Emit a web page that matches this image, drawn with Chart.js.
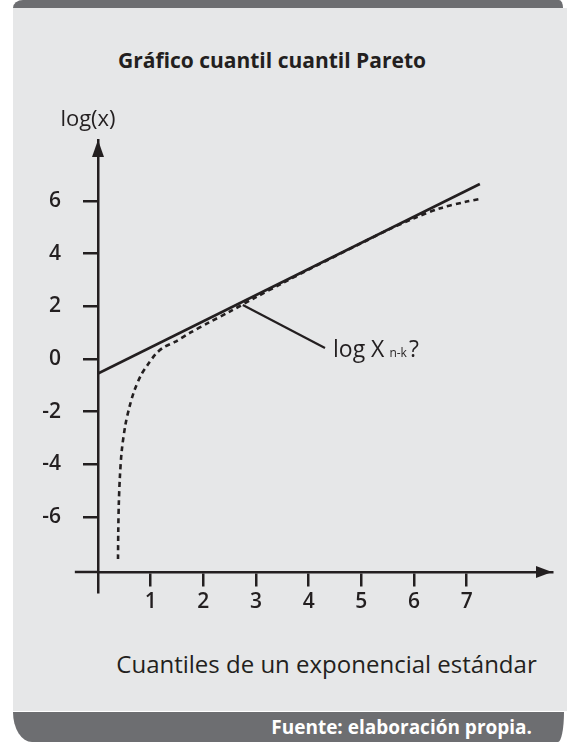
<!DOCTYPE html>
<html lang="es">
<head>
<meta charset="utf-8">
<title>Gráfico cuantil cuantil Pareto</title>
<script src="https://cdn.jsdelivr.net/npm/chart.js@4.4.1/dist/chart.umd.min.js"></script>
<style>
  html, body { margin: 0; padding: 0; background: #fff; }
  body { width: 567px; height: 742px; position: relative; overflow: hidden; font-family: "Open Sans", sans-serif; color: #231f20; }
  .band-top { position: absolute; left: 13px; top: 0; width: 550px; height: 8px; background: #6d6e71; border-top-left-radius: 10px 8px; border-top-right-radius: 4px 8px; }
  .panel { position: absolute; left: 13px; top: 8px; right: 0; height: 703px; background: #e6e7e8; }
  .band-bottom { position: absolute; left: 13px; top: 712px; width: 551px; height: 30px; background: #6d6e71; border-bottom-left-radius: 19px 30px; border-bottom-right-radius: 6px 30px; }
  .title { position: absolute; left: 0; width: 544px; top: 48px; line-height: 24px; text-align: center; font-weight: 700; font-size: 21px; }
  .caption { position: absolute; left: 0; width: 653px; top: 650px; line-height: 28px; text-align: center; font-size: 24px; }
  .source { position: absolute; right: 35px; top: 714px; line-height: 26px; font-weight: 700; font-size: 19px; color: #fff; }
  canvas { position: absolute; left: 0; top: 0; }
</style>
</head>
<body>
<div class="band-top"></div>
<div class="panel"></div>
<div class="band-bottom"></div>
<div class="title">Gráfico cuantil cuantil Pareto</div>
<div class="caption">Cuantiles de un exponencial estándar</div>
<div class="source">Fuente: elaboración propia.</div>
<canvas id="qqChart" width="567" height="742"></canvas>
<script>
// tick values
const xTicks = [1, 2, 3, 4, 5, 6, 7];
const yTicks = [-6, -4, -2, 0, 2, 4, 6];

// straight reference line
const refX = [0, 7.25];
const refY = [-0.55, 6.65];

// empirical quantiles (dashed curve)
const qqX = [0.38, 0.385, 0.395, 0.415, 0.45, 0.52, 0.60, 0.69, 0.82, 0.95, 1.1, 1.25, 1.46, 1.75, 2.1, 2.5, 3.0, 3.5, 4.0, 5.0, 5.5, 6.0, 6.5, 7.0, 7.25];
const qqY = [-7.6, -6.5, -5.5, -4.5, -3.5, -2.5, -1.8, -1.2, -0.6, -0.2, 0.2, 0.45, 0.65, 1.0, 1.38, 1.8, 2.35, 2.88, 3.4, 4.4, 4.9, 5.35, 5.73, 5.98, 6.08];

// axis extents and annotation anchor
const xRange = [-0.44, 8.62];
const yRange = [-8.85, 8.32];
const xAxisAt = -8.09;
const noteFrom = [2.75, 2.05];
const noteTo = [4.31, 0.42];

const ink = '#231f20';
const fontFamily = '"Open Sans", sans-serif';

function toPoints(xs, ys) {
    return xs.map((v, i) => ({ x: v, y: ys[i] }));
}

// arrows, axis label and the log X annotation
const decorations = {
    id: 'decorations',
    afterDraw(chart) {
        const { ctx, scales: { x, y } } = chart;
        const x0 = x.getPixelForValue(0);
        const top = y.getPixelForValue(y.max);
        const axisY = y.getPixelForValue(xAxisAt);
        const left = x.getPixelForValue(xRange[0]);
        const right = x.getPixelForValue(x.max);

        ctx.save();
        ctx.fillStyle = ink;
        ctx.strokeStyle = ink;

        // x axis continues a little to the left of the y axis
        ctx.lineWidth = 2.5;
        ctx.beginPath();
        ctx.moveTo(left, axisY);
        ctx.lineTo(x0, axisY);
        ctx.stroke();

        ctx.beginPath();
        ctx.moveTo(x0, top);
        ctx.lineTo(x0 - 6, top + 17);
        ctx.lineTo(x0 + 6, top + 17);
        ctx.closePath();
        ctx.fill();

        ctx.beginPath();
        ctx.moveTo(right, axisY);
        ctx.lineTo(right - 16, axisY - 6);
        ctx.lineTo(right - 16, axisY + 6);
        ctx.closePath();
        ctx.fill();

        ctx.font = '22px ' + fontFamily;
        ctx.textAlign = 'center';
        ctx.textBaseline = 'alphabetic';
        ctx.fillText('log(x)', x0 - 10, top - 14);

        // leader line
        const ax = x.getPixelForValue(noteFrom[0]);
        const ay = y.getPixelForValue(noteFrom[1]);
        const bx = x.getPixelForValue(noteTo[0]);
        const by = y.getPixelForValue(noteTo[1]);
        ctx.lineWidth = 2.2;
        ctx.beginPath();
        ctx.moveTo(ax, ay);
        ctx.lineTo(bx, by);
        ctx.stroke();

        ctx.textAlign = 'left';
        ctx.font = '23px ' + fontFamily;
        let tx = bx + 8;
        const ty = by + 9;
        ctx.fillText('log X', tx, ty);
        tx += ctx.measureText('log X').width + 5;
        ctx.font = '12px ' + fontFamily;
        ctx.fillText('n-k', tx, ty);
        tx += ctx.measureText('n-k').width + 2;
        ctx.font = '23px ' + fontFamily;
        ctx.fillText('?', tx, ty);
        ctx.restore();
    }
};

const ctx = document.getElementById('qqChart').getContext('2d');
new Chart(ctx, {
    type: 'scatter',
    data: {
        datasets: [
            {
                label: 'Recta',
                data: toPoints(refX, refY),
                showLine: true,
                borderColor: ink,
                borderWidth: 2.6,
                pointRadius: 0
            },
            {
                label: 'Cuantiles empíricos',
                data: toPoints(qqX, qqY),
                showLine: true,
                borderColor: ink,
                borderWidth: 2.6,
                borderDash: [5, 4],
                tension: 0.3,
                pointRadius: 0
            }
        ]
    },
    options: {
        responsive: false,
        animation: false,
        layout: {
            padding: { left: 0, right: 15, top: 140, bottom: 150 }
        },
        plugins: {
            legend: { display: false },
            tooltip: { enabled: false }
        },
        scales: {
            x: {
                type: 'linear',
                position: { y: xAxisAt },
                min: 0,
                max: xRange[1],
                afterBuildTicks: axis => { axis.ticks = xTicks.map(v => ({ value: v })); },
                grid: { drawOnChartArea: false, drawTicks: true, tickLength: 13, color: ink, lineWidth: 2.5 },
                border: { display: true, color: ink, width: 2.5 },
                ticks: { color: ink, padding: 4, font: { family: fontFamily, size: 21, weight: '600' } }
            },
            y: {
                type: 'linear',
                position: 'left',
                min: yRange[0],
                max: yRange[1],
                afterBuildTicks: axis => { axis.ticks = yTicks.map(v => ({ value: v })); },
                afterFit: axis => { axis.width = 98; },
                grid: { drawOnChartArea: false, drawTicks: true, tickLength: 15, color: ink, lineWidth: 2.5 },
                border: { display: true, color: ink, width: 2.5 },
                ticks: { color: ink, padding: 22, font: { family: fontFamily, size: 21, weight: '600' } }
            }
        }
    },
    plugins: [decorations]
});
</script>
</body>
</html>
